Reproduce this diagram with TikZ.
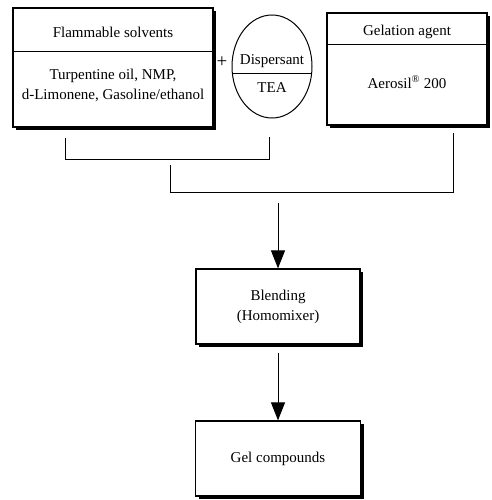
\documentclass[tikz,border=0pt]{standalone}
\usepackage{fontspec}
\setmainfont{Liberation Serif}
\usetikzlibrary{arrows.meta,shadows,calc}
\begin{document}
\begin{tikzpicture}[x=1pt,y=-1pt,
  every node/.style={font=\fontsize{15}{20}\selectfont},
  box/.style={draw,line width=1.2pt,fill=white,
    drop shadow={shadow xshift=3pt,shadow yshift=-3pt,fill=black,opacity=1}},
  link/.style={line width=1pt},
  flow/.style={line width=1pt,-{Triangle[width=14pt,length=18pt]}}]
  \useasboundingbox (0,0) rectangle (491,500);
  % inputs
  \node[box,minimum width=200pt,minimum height=119pt] (solvbox) at (113,67.5) {};
  \node (solvhead) at (113,32) {Flammable solvents};
  \draw[line width=1pt] (solvbox.west |- 0,52) -- (solvbox.east |- 0,52);
  \node[align=center] (solvtext) at (113,85) {Turpentine oil, NMP,\\d-Limonene, Gasoline/ethanol};
  \node[font=\fontsize{19}{20}\selectfont] (plus) at (222,62) {+};
  \draw[line width=1pt] (272,66.5) ellipse (40pt and 51.5pt);
  \coordinate (disp) at (272,66.5);
  \begin{scope}
    \clip (disp) ellipse (40pt and 51.5pt);
    \draw[line width=1pt] (220,74) -- (324,74);
  \end{scope}
  \node (disphead) at (272,61) {Dispersant};
  \node (disptext) at (272,88) {TEA};
  \node[box,minimum width=160pt,minimum height=112pt] (gelbox) at (407,69) {};
  \node (gelhead) at (407,32) {Gelation agent};
  \draw[line width=1pt] (gelbox.west |- 0,45) -- (gelbox.east |- 0,45);
  \node (geltext) at (407,82) {Aerosil\textsuperscript{\textregistered} 200};
  % brackets
  \coordinate (b1a) at (65,138);
  \coordinate (b1b) at (269,137);
  \draw[link] (b1a) |- (b1b |- 0,159) -- (b1b);
  \coordinate (b2a) at (170,165);
  \coordinate (b2b) at (453,133);
  \draw[link] (b2a) |- (b2b |- 0,192) -- (b2b);
  \coordinate (mix) at (278,203);
  % process
  \node[box,minimum width=164pt,minimum height=75pt,align=center] (blend) at (278,306.5) {Blending\\(Homomixer)};
  \node[box,minimum width=165pt,minimum height=75pt] (gel) at (278,458.5) {Gel compounds};
  \draw[flow] (mix) -- (blend.north);
  \draw[flow,shorten <=8pt] (blend.south) -- (gel.north);
\end{tikzpicture}
\end{document}
